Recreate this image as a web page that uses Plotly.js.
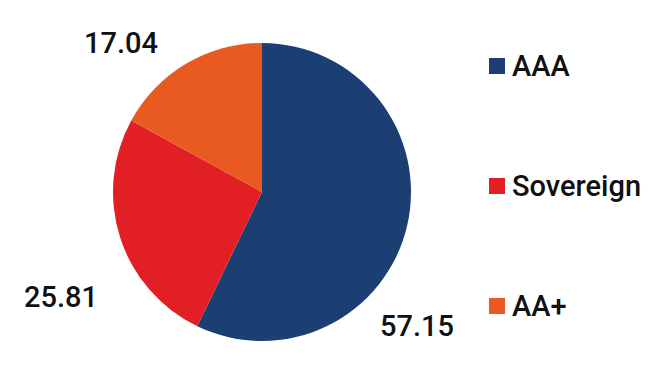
<!DOCTYPE html>
<html>
<head>
<meta charset="utf-8">
<script src="https://cdn.plot.ly/plotly-3.0.1.min.js"></script>
<style>html,body{margin:0;padding:0;background:#fff;}#chart{width:660px;height:371px;}</style>
</head>
<body>
<div id="chart"></div>
<script>
const categories = ["AAA", "Sovereign", "AA+"];
const values = [57.15, 25.81, 17.04];
const colors = ["#1b3e73", "#e31f26", "#e95a20"];

const W = 660, H = 371;
const cx = 262, cy = 192, r = 149;

// label positions (pixel centres) for each slice value
const labelPos = [[417, 326], [61, 297], [121, 43]];
// legend rows (pixel y centres)
const legendY = [66, 186, 306];
const legendX = 497;

const trace = {
  type: "pie",
  labels: categories,
  values: values,
  sort: false,
  direction: "clockwise",
  rotation: 0,
  textinfo: "none",
  hoverinfo: "label+value",
  marker: { colors: colors, line: { width: 0 } },
  domain: { x: [(cx - r) / W, (cx + r) / W], y: [1 - (cy + r) / H, 1 - (cy - r) / H] },
  showlegend: false
};

const font = { family: "Roboto", size: 29, weight: 500, color: "#111111" };
const annotations = [];
const shapes = [];
values.forEach((v, i) => {
  annotations.push({
    xref: "paper", yref: "paper",
    x: labelPos[i][0] / W, y: 1 - labelPos[i][1] / H,
    xanchor: "center", yanchor: "middle",
    text: v.toFixed(2), showarrow: false,
    font: font
  });
});
categories.forEach((c, i) => {
  shapes.push({
    type: "rect", xref: "paper", yref: "paper",
    x0: (legendX - 8) / W, x1: (legendX + 8) / W,
    y0: 1 - (legendY[i] + 8) / H, y1: 1 - (legendY[i] - 8) / H,
    fillcolor: colors[i], line: { width: 0 }
  });
  annotations.push({
    xref: "paper", yref: "paper",
    x: (legendX + 13) / W, y: 1 - legendY[i] / H,
    xanchor: "left", yanchor: "middle",
    text: c, showarrow: false,
    font: font
  });
});

const layout = {
  width: W, height: H,
  margin: { l: 0, r: 0, t: 0, b: 0 },
  paper_bgcolor: "#ffffff",
  showlegend: false,
  annotations: annotations,
  shapes: shapes
};

Plotly.newPlot("chart", [trace], layout, { displayModeBar: false, staticPlot: true });
</script>
</body>
</html>
